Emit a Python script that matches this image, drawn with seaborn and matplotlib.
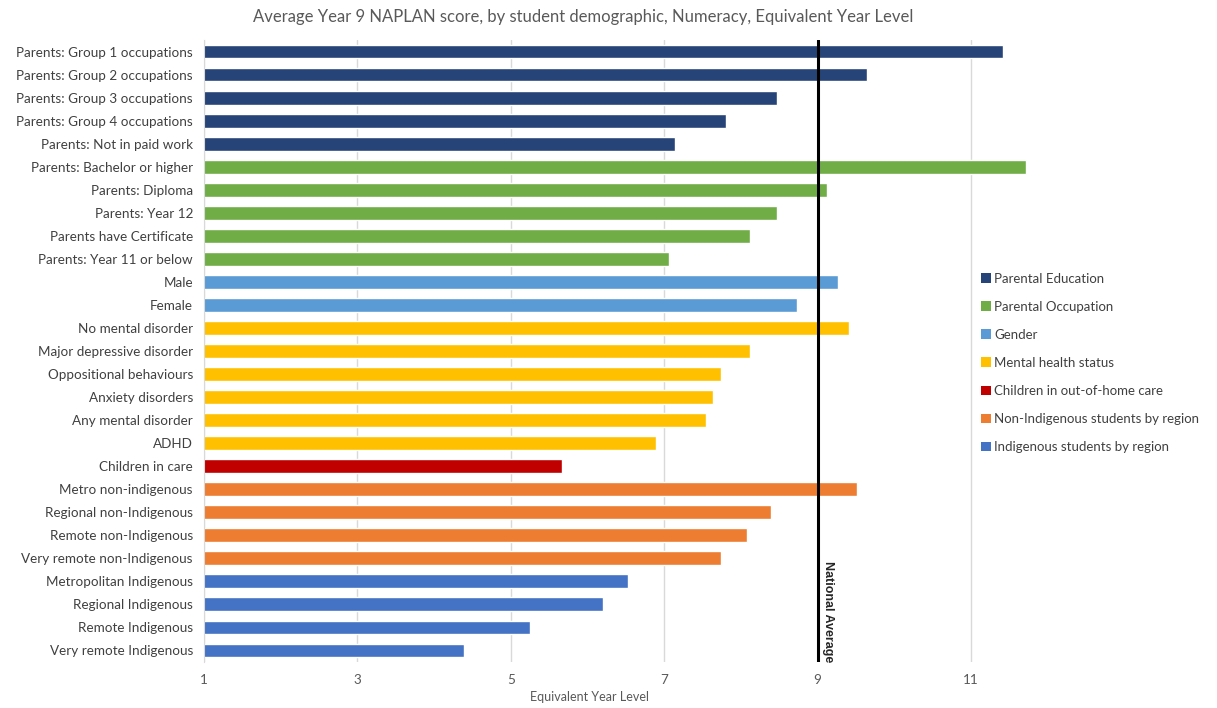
import numpy as np
import pandas as pd
import seaborn as sns
import matplotlib.pyplot as plt
import matplotlib.transforms as mtransforms
from matplotlib.patches import Patch

# data
categories = [
    'Parents: Group 1 occupations', 'Parents: Group 2 occupations',
    'Parents: Group 3 occupations', 'Parents: Group 4 occupations',
    'Parents: Not in paid work', 'Parents: Bachelor or higher',
    'Parents: Diploma', 'Parents: Year 12', 'Parents have Certificate',
    'Parents: Year 11 or below', 'Male', 'Female', 'No mental disorder',
    'Major depressive disorder', 'Oppositional behaviours', 'Anxiety disorders',
    'Any mental disorder', 'ADHD', 'Children in care', 'Metro non-indigenous',
    'Regional non-Indigenous', 'Remote non-Indigenous',
    'Very remote non-Indigenous', 'Metropolitan Indigenous',
    'Regional Indigenous', 'Remote Indigenous', 'Very remote Indigenous',
]
values = [11.42, 9.64, 8.47, 7.81, 7.14, 11.72, 9.12, 8.47, 8.12, 7.06,
          9.27, 8.73, 9.41, 8.12, 7.74, 7.64, 7.55, 6.89, 5.67, 9.51,
          8.39, 8.08, 7.74, 6.53, 6.20, 5.25, 4.39]
group_names = ['Parental Education', 'Parental Occupation', 'Gender',
               'Mental health status', 'Children in out-of-home care',
               'Non-Indigenous students by region', 'Indigenous students by region']
group_sizes = [5, 5, 2, 6, 1, 4, 4]
group_colors = ['#264478', '#70AD47', '#5B9BD5', '#FFC000', '#C00000', '#ED7D31', '#4472C4']
national_average = 9

groups = [g for g, n in zip(group_names, group_sizes) for _ in range(n)]
df = pd.DataFrame({'category': categories, 'value': values, 'group': groups})
palette = dict(zip(group_names, group_colors))

sns.set_style('white')
plt.rcParams['font.family'] = ['Lato', 'DejaVu Sans']

fig = plt.figure(figsize=(12.17, 7.08), dpi=100)
ax = fig.add_axes([204 / 1217, 1 - 662 / 708, 886 / 1217, 622 / 708])

sns.barplot(data=df, y='category', x='value', hue='group', palette=palette,
            hue_order=group_names, dodge=False, width=0.6, orient='h',
            saturation=1, legend=False, ax=ax)

ax.set_xlim(1, 12.55)
ax.set_ylim(len(categories) - 0.5, -0.5)
ax.set_xticks([1, 3, 5, 7, 9, 11])
ax.grid(axis='x', color='#D9D9D9', lw=1)
ax.set_axisbelow(True)
for s in ['top', 'right', 'bottom']:
    ax.spines[s].set_visible(False)
ax.spines['left'].set_color('#D9D9D9')
ax.tick_params(axis='both', length=0, labelsize=9.7, labelcolor='#404040')
ax.tick_params(axis='y', pad=8)
ax.tick_params(axis='x', pad=9, labelcolor='#595959')
ax.set_ylabel('')
ax.set_xlabel('Equivalent Year Level', fontsize=9, color='#595959')
ax.xaxis.set_label_coords((590 - 204) / 886, -0.047)

# national average line + label
ax.axvline(national_average, color='black', lw=2.2, zorder=5)
trans = mtransforms.blended_transform_factory(ax.transData, ax.transAxes)
ax.text(national_average + 0.06, 0.0, 'National Average', rotation=-90,
        ha='left', va='bottom', fontsize=9, fontweight='bold',
        family='Liberation Sans', transform=trans)

fig.suptitle('Average Year 9 NAPLAN score, by student demographic, Numeracy, Equivalent Year Level',
             x=583 / 1217, y=1 - 9 / 708, va='top', fontsize=12, color='#595959')

handles = [Patch(facecolor=c, edgecolor='none') for c in group_colors]
leg = fig.legend(handles, group_names, loc='upper left',
                 bbox_to_anchor=(978 / 1217, 1 - 270 / 708), frameon=True,
                 facecolor='white', edgecolor='none', framealpha=1,
                 fontsize=9.5, labelcolor='#404040', handlelength=0.75,
                 handleheight=0.75, handletextpad=0.3, labelspacing=1.22,
                 borderaxespad=0, borderpad=0.2)

fig.savefig('out.png', dpi=100)
